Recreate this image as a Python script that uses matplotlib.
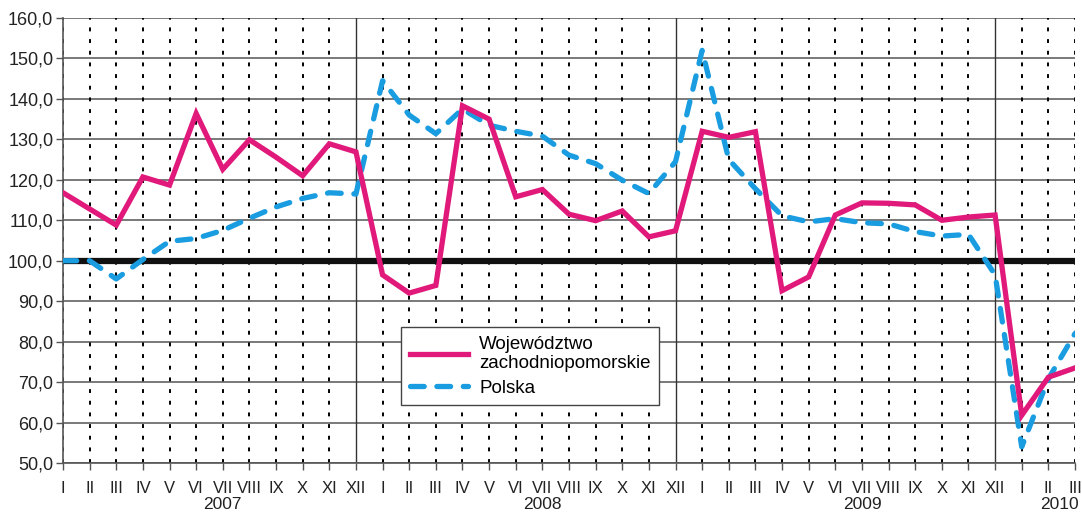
import matplotlib
matplotlib.use("Agg")
import matplotlib.pyplot as plt
from matplotlib.transforms import blended_transform_factory

plt.rcParams['font.family'] = ['Liberation Sans', 'DejaVu Sans']

months = ["I", "II", "III", "IV", "V", "VI", "VII", "VIII", "IX", "X", "XI", "XII"] * 3 + ["I", "II", "III"]
years = ["2007", "2008", "2009", "2010"]
year_centers = [6, 18, 30, 37.4]

zachodniopomorskie = [116.8, 112.8, 108.8, 120.7, 118.7, 136.4, 122.6, 129.9, 125.6, 121.0, 128.9, 126.9,
                      96.5, 92.0, 93.9, 138.3, 135.0, 115.8, 117.6, 111.5, 109.9, 112.3, 105.9, 107.4,
                      132.0, 130.5, 131.9, 92.6, 96.0, 111.3, 114.3, 114.2, 113.8, 110.0, 110.8, 111.3,
                      61.8, 71.2, 73.5]
polska = [100.0, 100.0, 95.5, 100.3, 104.8, 105.5, 107.5, 110.5, 113.3, 115.4, 116.8, 116.5,
          144.5, 136.0, 131.4, 137.5, 133.5, 132.0, 130.8, 126.1, 124.0, 119.9, 116.6, 124.5,
          152.0, 125.0, 117.8, 111.1, 109.6, 110.4, 109.4, 109.1, 107.2, 106.1, 106.5, 96.5,
          54.0, 70.8, 82.0]

labels = ["Województwo\nzachodniopomorskie", "Polska"]

x = list(range(len(months)))

fig = plt.figure(figsize=(10.82, 5.14), dpi=100)
ax = fig.add_axes([63/1082, 51/514, (1075-63)/1082, (463-18)/514])

# horizontal grid
for v in range(50, 161, 10):
    ax.axhline(v, color='#555555', lw=1.1, zorder=1)
# vertical lines
for i in x:
    if months[i] == "XII":
        ax.axvline(i, color='#333333', lw=1.0, zorder=1)
    else:
        ax.axvline(i, color='black', lw=1.4, linestyle=(0, (2, 4)), zorder=1)

ax.axhline(100, color='#111111', lw=4.5, zorder=2)

ax.plot(x, zachodniopomorskie, color='#e0197b', lw=3.8, solid_joinstyle='miter',
        label=labels[0], zorder=4)
ax.plot(x, polska, color='#1a9ce0', lw=3.8, linestyle=(0, (2.6, 2.4)),
        dash_capstyle='round', label=labels[1], zorder=3)

ax.set_xlim(0, len(months) - 1)
ax.set_ylim(50, 160)
ax.set_yticks(range(50, 161, 10))
ax.set_yticklabels([f"{v},0" for v in range(50, 161, 10)], fontsize=13, color='#222222')
ax.set_xticks(x)
ax.set_xticklabels(months, fontsize=12, color='#222222')
ax.tick_params(axis='x', length=5, width=1, color='#555555', pad=8)
ax.tick_params(axis='y', length=5, width=1, color='#555555', pad=2)

for s in ['top', 'right']:
    ax.spines[s].set_visible(False)
for s in ['left', 'bottom']:
    ax.spines[s].set_color('#555555')
    ax.spines[s].set_linewidth(1.2)

trans = blended_transform_factory(ax.transData, ax.transAxes)
for yr, c in zip(years, year_centers):
    ax.text(c, -0.094, yr, transform=trans, ha='center', va='center', fontsize=12.5, color='#222222')

leg = ax.legend(loc='upper left', bbox_to_anchor=(0.325, 0.326), fontsize=13.5,
                frameon=True, fancybox=False, edgecolor='#444444', framealpha=1,
                handlelength=3.1, borderpad=0.45, labelspacing=0.4, handletextpad=0.6)
leg.get_frame().set_linewidth(1.0)

fig.savefig("out.png", dpi=100)
